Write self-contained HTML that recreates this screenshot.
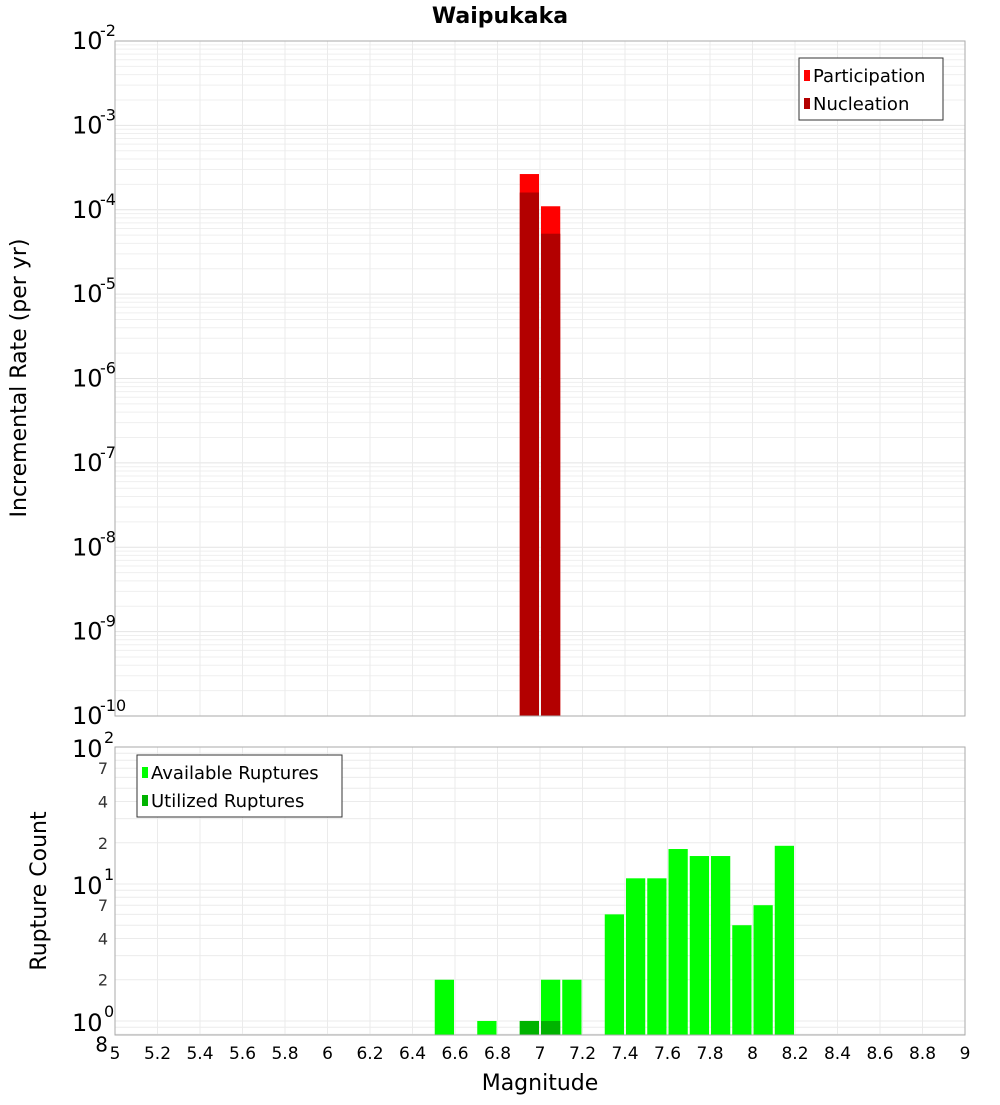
<!DOCTYPE html>
<html><head><meta charset="utf-8"><style>
body{margin:0;background:#fff;}
svg{font-family:"DejaVu Sans","Liberation Sans",sans-serif;}
</style></head><body>
<svg id="c" width="1000" height="1100" xmlns="http://www.w3.org/2000/svg">
<text x="500" y="23" text-anchor="middle" font-size="22" font-weight="bold">Waipukaka</text>
<g id="topplot"></g>
<g id="botplot"></g>
<text transform="translate(26,378) rotate(-90)" text-anchor="middle" font-size="22">Incremental Rate (per yr)</text>
<text transform="translate(46,891) rotate(-90)" text-anchor="middle" font-size="22">Rupture Count</text>
<text x="540" y="1090" text-anchor="middle" font-size="22">Magnitude</text>
</svg>
<script>
const rateMags=[6.95,7.05];
const participation=[2.65e-4,1.1e-4];
const nucleation=[1.6e-4,5.2e-5];
const countMags=[6.55,6.75,6.95,7.05,7.15,7.35,7.45,7.55,7.65,7.75,7.85,7.95,8.05,8.15];
const available=[2,1,1,2,2,6,11,11,18,16,16,5,7,19];
const utilMags=[6.95,7.05];
const utilized=[1,1];
const xTicks=["5","5.2","5.4","5.6","5.8","6","6.2","6.4","6.6","6.8","7","7.2","7.4","7.6","7.8","8","8.2","8.4","8.6","8.8","9"];
const topExps=[-2,-3,-4,-5,-6,-7,-8,-9,-10];

const NS="http://www.w3.org/2000/svg";
function mk(p,t,a){const e=document.createElementNS(NS,t);for(const k in a)e.setAttribute(k,a[k]);p.appendChild(e);return e;}
const X0=115,X1=965;
const xs=m=>X0+(m-5)/4*(X1-X0);
const T0=41,T1=716;
const ty=v=>T0+(-2-Math.log10(v))/8*(T1-T0);
const B0=747,B1=1035;const bl0=Math.log10(0.79);
const by=v=>B1-(Math.log10(v)-bl0)/(2-bl0)*(B1-B0);
const bw=0.1*(X1-X0)/4;

const topG=document.getElementById('topplot'),botG=document.getElementById('botplot');
const svgRoot=document.getElementById('c');
for(let e=-10;e<-2;e++)for(let k=1;k<10;k++){const y=ty(k*Math.pow(10,e));
 const l=mk(topG,'line',{x1:X0,x2:X1,y1:y,y2:y,stroke:k==1?'#e4e4e4':'#efefef','stroke-width':1});
 
 }
for(let i=0;i<xTicks.length;i++){const x=xs(+xTicks[i]);
 for(const [g,a,b] of [[topG,T0,T1],[botG,B0,B1]]){const l=mk(g,'line',{x1:x,x2:x,y1:a,y2:b,stroke:'#ebebeb'});
 
 }
 const t=mk(svgRoot,'text',{x:x,y:1059,'text-anchor':'middle','font-size':17});t.textContent=xTicks[i];
 
 }
for(let e=-1;e<2;e++)for(let k=1;k<10;k++){const v=k*Math.pow(10,e);if(v<0.79)continue;const y=by(v);
 const l=mk(botG,'line',{x1:X0,x2:X1,y1:y,y2:y,stroke:'#ebebeb'});
 
 }
rateMags.forEach((m,i)=>{
 const r=mk(topG,'rect',{x:xs(m)-bw/2+1,width:bw-2,y:ty(participation[i]),height:T1-ty(participation[i]),fill:'#ff0000'});
 
 
 const n=mk(topG,'rect',{x:xs(m)-bw/2+1,width:bw-2,y:ty(nucleation[i]),height:T1-ty(nucleation[i]),fill:'#b30000'});
 
 });
countMags.forEach((m,i)=>{const y=by(available[i]);
 const r=mk(botG,'rect',{x:xs(m)-bw/2+1,width:bw-2,y:y,height:B1-y,fill:'#00ff00'});
 
 });
utilMags.forEach((m,i)=>{const y=by(utilized[i]);
 const r=mk(botG,'rect',{x:xs(m)-bw/2+1,width:bw-2,y:y,height:B1-y,fill:'#00b300'});
 
 });
let f=mk(topG,'rect',{x:X0,y:T0,width:X1-X0,height:T1-T0,fill:'none',stroke:'#aaa'});


f=mk(botG,'rect',{x:X0,y:B0,width:X1-X0,height:B1-B0,fill:'none',stroke:'#aaa'});


topExps.forEach(e=>{const y=ty(Math.pow(10,e));
 const t=mk(topG,'text',{x:72,y:y+8,'font-size':24});t.textContent='10';
 
 
 const s=mk(topG,'text',{x:100,y:y-5,'font-size':16});s.textContent=String(e);
 
 });
[[0,'0'],[1,'1'],[2,'2']].forEach(([e,s])=>{const y=by(Math.pow(10,e));
 const t=mk(botG,'text',{x:72,y:y+10,'font-size':24});t.textContent='10';
 
 
 const u=mk(botG,'text',{x:104,y:y-4,'font-size':16});u.textContent=s;
 
 });
[[2,'2'],[4,'4'],[7,'7'],[20,'2'],[40,'4'],[70,'7'],[0.8,'8']].forEach(([v,s])=>{const y=by(v);
 const t=mk(botG,'text',{x:108,y:y+(v==0.8?17:6),'font-size':v==0.8?20:16,'text-anchor':'end',fill:v==0.8?'#000':'#333'});t.textContent=s;
 
 });
function legend(g,x,y,w,items,nm){const r=mk(g,'rect',{x:x,y:y,width:w,height:items.length*28+6,fill:'#fff',stroke:'#333'});
 
 
 items.forEach(([c,l],i)=>{const yy=y+18+i*28;const s=mk(g,'rect',{x:x+5,y:yy-6,width:6,height:11,fill:c});
 
 
 const t=mk(g,'text',{x:x+14,y:yy+6,'font-size':18});t.textContent=l;
 
 });}
legend(topG,799,58,144,[['#ff0000','Participation'],['#b30000','Nucleation']],'top-legend');
legend(botG,137,755,205,[['#00ff00','Available Ruptures'],['#00b300','Utilized Ruptures']],'bottom-legend');
</script>
</body></html>
